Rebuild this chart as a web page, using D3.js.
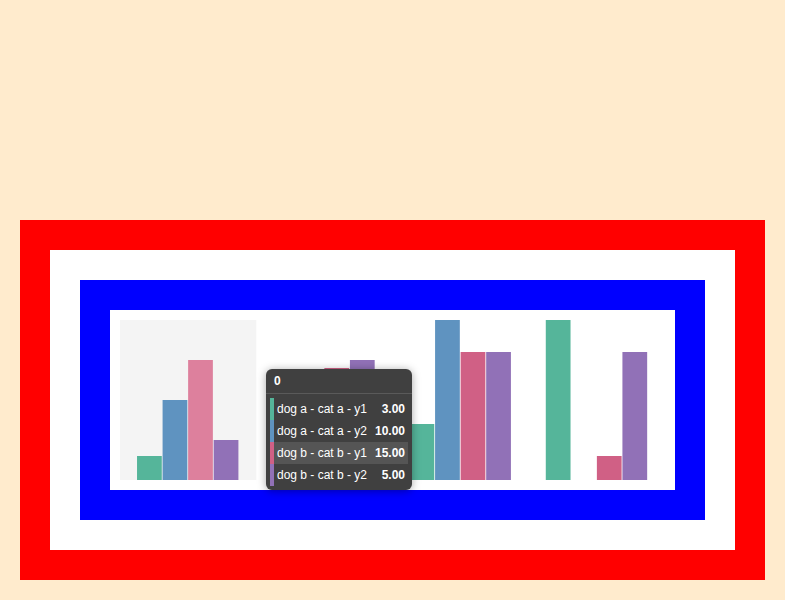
<!DOCTYPE html>
<html><head><meta charset="utf-8">
<script src="https://cdn.jsdelivr.net/npm/d3@7"></script>
<style>
body{margin:0;background:#ffebcd;width:785px;height:600px;position:relative;overflow:hidden;font-family:"Liberation Sans",Arial,Helvetica,sans-serif;}
#tip{position:absolute;left:266px;top:369px;width:146px;height:121px;background:#404040;border-radius:6px;color:#fff;font-size:12px;box-shadow:0 1px 8px rgba(0,0,0,0.35);box-sizing:border-box;}
#tip .hd{height:24px;line-height:24px;padding-left:8px;font-weight:bold;border-bottom:1px solid #5a5a5a;}
#tip .rows{padding:4px 4px 0 4px;}
#tip .row{position:relative;height:22px;line-height:22px;padding-left:7px;}
#tip .row.hl{background:#555555;}
#tip .sw{position:absolute;left:0;top:0;width:4px;height:22px;}
#tip .v{position:absolute;right:3px;top:0;font-weight:bold;}
</style></head><body>
<svg id="chart" width="785" height="600" style="position:absolute;left:0;top:0"></svg>
<div id="tip"></div>
<script>
const groups = ["0", "1", "2", "3"];
const seriesNames = ["dog a - cat a - y1", "dog a - cat a - y2", "dog b - cat b - y1", "dog b - cat b - y2"];
const valuesA1 = [3, 8, 7, 20];
const valuesA2 = [10, 12, 20, 0];
const valuesB1 = [15, 14, 16, 3];
const valuesB2 = [5, 15, 16, 16];
const colors = ["#55b59a", "#5f93c0", "#d06085", "#9171b7"];
const hoverColor = "#dd809d";
const hoverGroup = "0";
const hoverSeries = 2;

const seriesValues = [valuesA1, valuesA2, valuesB1, valuesB2];
const svg = d3.select("#chart");
// frames
svg.append("rect").attr("x",20).attr("y",220).attr("width",745).attr("height",360).attr("fill","#ff0000");
svg.append("rect").attr("x",50).attr("y",250).attr("width",685).attr("height",300).attr("fill","#ffffff");
svg.append("rect").attr("x",80).attr("y",280).attr("width",625).attr("height",240).attr("fill","#0000ff");
svg.append("rect").attr("x",110).attr("y",310).attr("width",565).attr("height",180).attr("fill","#ffffff");

const plot = svg.append("g").attr("transform","translate(120,320)");
const W = 545, H = 160;
const x0 = d3.scaleBand().domain(groups).range([0, W]);
const bw = x0.bandwidth();
const x1 = d3.scaleBand().domain(seriesNames).range([bw*0.125, bw*0.875]);
const y = d3.scaleLinear().domain([0, 20]).range([H, 0]);

plot.append("rect").attr("x", x0(hoverGroup)).attr("y", 0).attr("width", bw).attr("height", H).attr("fill", "#f4f4f4");

const data = [];
groups.forEach((g, gi) => seriesNames.forEach((s, si) => data.push({g, s, si, v: seriesValues[si][gi]})));
plot.selectAll("rect.bar").data(data.filter(d => d.v > 0)).join("rect").attr("class","bar")
  .attr("x", d => x0(d.g) + x1(d.s))
  .attr("y", d => y(d.v))
  .attr("width", x1.bandwidth() - 0.8)
  .attr("height", d => y(0) - y(d.v))
  .attr("fill", d => (d.g === hoverGroup && d.si === hoverSeries) ? hoverColor : colors[d.si]);

// tooltip
const gi = groups.indexOf(hoverGroup);
const tip = d3.select("#tip");
tip.append("div").attr("class","hd").text(hoverGroup);
const rows = tip.append("div").attr("class","rows").selectAll("div").data(seriesNames).join("div")
  .attr("class", (d,i) => "row" + (i === hoverSeries ? " hl" : ""));
rows.append("div").attr("class","sw").style("background", (d,i) => colors[i]);
rows.append("span").text(d => d);
rows.append("span").attr("class","v").text((d,i) => d3.format(".2f")(seriesValues[i][gi]));
</script></body></html>
